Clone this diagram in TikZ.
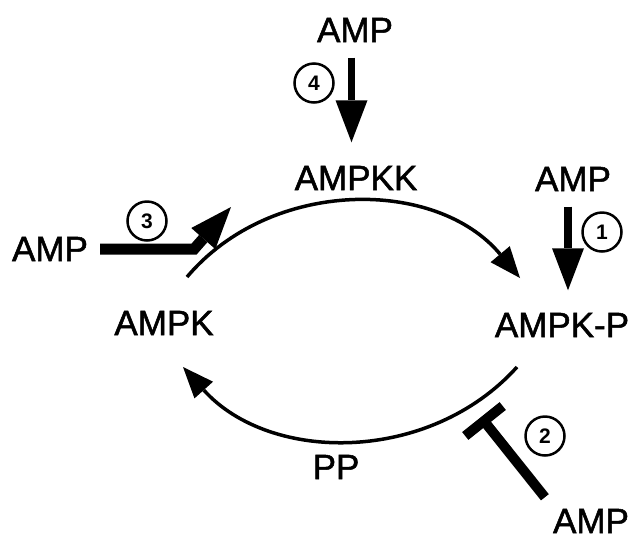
\documentclass[tikz,border=0pt]{standalone}
\usepackage{fontspec}
\setmainfont{Liberation Sans}
\newfontfamily\lblfont[FakeBold=1.5]{Liberation Sans}
\usetikzlibrary{arrows.meta,calc}
\begin{document}
\begin{tikzpicture}[x=1pt,y=-1pt,
  lbl/.style={inner sep=0pt, font=\lblfont\fontsize{35}{40}\selectfont},
  num/.style={circle, draw, line width=2.5pt, minimum size=39pt, inner sep=0pt, font=\fontsize{21}{24}\selectfont\bfseries},
  bigarrow/.style={line width=7.5pt, -{Triangle[length=42pt,width=32pt,line width=0pt]}},
  arcarrow/.style={line width=3.5pt, -{Triangle[length=31pt,width=25pt,line width=0pt]}},
  actarrow/.style={line width=11pt, line join=miter, -{Triangle[length=42pt,width=32pt,line width=0pt]}},
  inhline/.style={line width=10pt}
]
\useasboundingbox (0,0) rectangle (634,539);
\fill[white] (0,0) rectangle (634,539);

% labels
\node[lbl] (ampT)  at (355,30)  {AMP};
\node[lbl] (ampkk) at (356,178) {AMPKK};
\node[lbl] (ampR)  at (573,179) {AMP};
\node[lbl] (ampkp) at (562,325) {AMPK-P};
\node[lbl] (ampk)  at (164,323) {AMPK};
\node[lbl] (pp)    at (336,467) {PP};
\node[lbl] (ampB)  at (591,521) {AMP};
\node[lbl] (ampL)  at (50,249)  {AMP};

% numbered circles
\node[num] (c4) at (314,83)  {4};
\node[num] (c1) at (602,232) {1};
\node[num] (c2) at (545,436) {2};
\node[num] (c3) at (147,221) {3};

% cycle arcs
\coordinate (u1) at (187,277);
\coordinate (u2) at (520,278);
\coordinate (l1) at (517,367);
\coordinate (l2) at (183,367);
\draw[arcarrow] (u1) to[bend left=50] (u2);
\draw[arcarrow] (l1) to[bend left=48] (l2);

% AMP effects
\draw[bigarrow] ([xshift=-3.5pt,yshift=-15.5pt]ampT.south) -- ([xshift=-4.5pt,yshift=23.5pt]ampkk.north);
\draw[bigarrow] ([xshift=-5pt,yshift=-15.5pt]ampR.south) -- ([xshift=6pt,yshift=22.5pt]ampkp.north);

\coordinate (act3) at (231,207);
\draw[actarrow] ([xshift=12pt]ampL.east) -- ++(94,0) -- (act3);

\coordinate (inhS) at ([xshift=-8pt,yshift=11.5pt]ampB.north west);
\coordinate (inh) at (484,421);
\draw[inhline] (inhS) -- (inh);
\draw[inhline] ($(inh)!24pt!90:(inhS)$) -- ($(inh)!24pt!-90:(inhS)$);
\end{tikzpicture}
\end{document}
